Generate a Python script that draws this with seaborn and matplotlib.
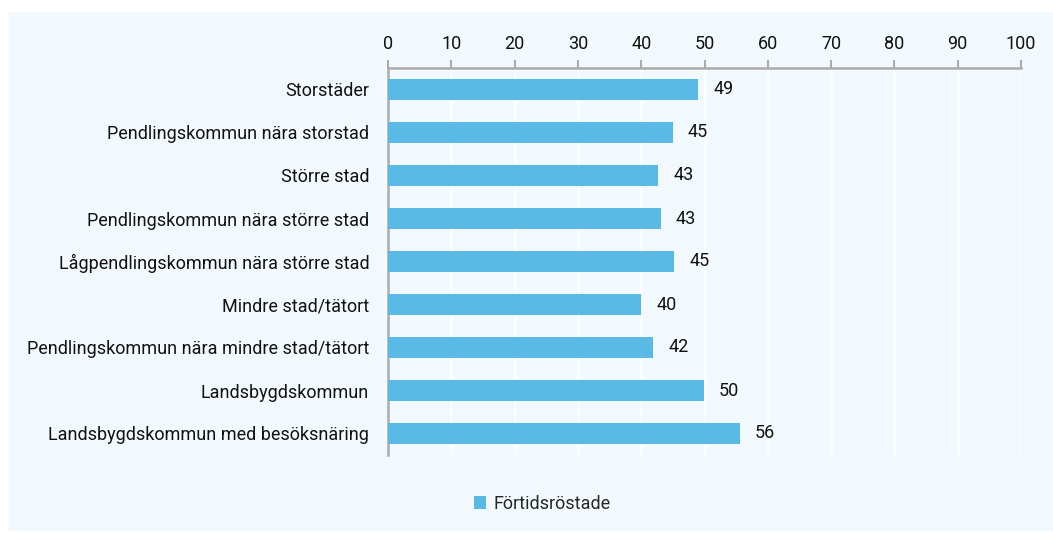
import matplotlib
matplotlib.use("Agg")
import matplotlib.pyplot as plt
from matplotlib.patches import Rectangle, Patch
import seaborn as sns
import pandas as pd

# kommungrupper och andel förtidsröstade (%)
categories = [
    "Storstäder",
    "Pendlingskommun nära storstad",
    "Större stad",
    "Pendlingskommun nära större stad",
    "Lågpendlingskommun nära större stad",
    "Mindre stad/tätort",
    "Pendlingskommun nära mindre stad/tätort",
    "Landsbygdskommun",
    "Landsbygdskommun med besöksnäring",
]
values = [49.0, 45.0, 42.7, 43.1, 45.2, 40.0, 41.9, 49.9, 55.6]
xticks = list(range(0, 101, 10))
series_name = "Förtidsröstade"

bar_color = "#5bb9e6"
bg_color = "#f3faff"
text_color = "#111111"

df = pd.DataFrame({"kategori": categories, "andel": values})

sns.set_style("white")
plt.rcParams["font.family"] = ["Roboto", "DejaVu Sans"]

fig = plt.figure(figsize=(10.53, 5.33), dpi=100)
fig.patch.set_facecolor("white")
# ljusblå bakgrundsruta
fig.add_artist(Rectangle((9 / 1053, 2 / 533), 1 - 9 / 1053, 1 - 14 / 533,
                         transform=fig.transFigure, facecolor=bg_color,
                         edgecolor="none", zorder=-10))

ax = fig.add_axes([388 / 1053, 1 - 455 / 533, (1021 - 388) / 1053, (455 - 68) / 533])
ax.set_facecolor(bg_color)

sns.barplot(data=df, x="andel", y="kategori", color=bar_color, width=0.51,
            saturation=1, linewidth=0, ax=ax, zorder=3)

for i, v in enumerate(values):
    ax.text(v + 2.4, i, f"{v:.0f}", va="center", ha="left", fontsize=13, color=text_color)

ax.set_xlim(0, 100)
ax.set_xticks(xticks)
ax.xaxis.tick_top()
ax.tick_params(axis="x", top=True, bottom=False, length=6, width=1.5, color="#ababab",
               labelsize=13, labelcolor=text_color, pad=5)
ax.tick_params(axis="y", left=False, labelsize=13, labelcolor=text_color, pad=10)
ax.set_xlabel("")
ax.set_ylabel("")
ax.grid(axis="x", color="white", linewidth=2, zorder=1)
ax.set_axisbelow(True)

for s in ["right", "bottom"]:
    ax.spines[s].set_visible(False)
for s in ["top", "left"]:
    ax.spines[s].set_color("#ababab")
    ax.spines[s].set_linewidth(1.8)

handles = [Patch(facecolor=bar_color, edgecolor="none", label=series_name)]
fig.legend(handles=handles, loc="center", bbox_to_anchor=(542 / 1053, 1 - 504 / 533),
           frameon=False, fontsize=13, handlelength=0.7, handleheight=0.7,
           handletextpad=0.4)

fig.savefig("out.png", dpi=100, facecolor=fig.get_facecolor())
